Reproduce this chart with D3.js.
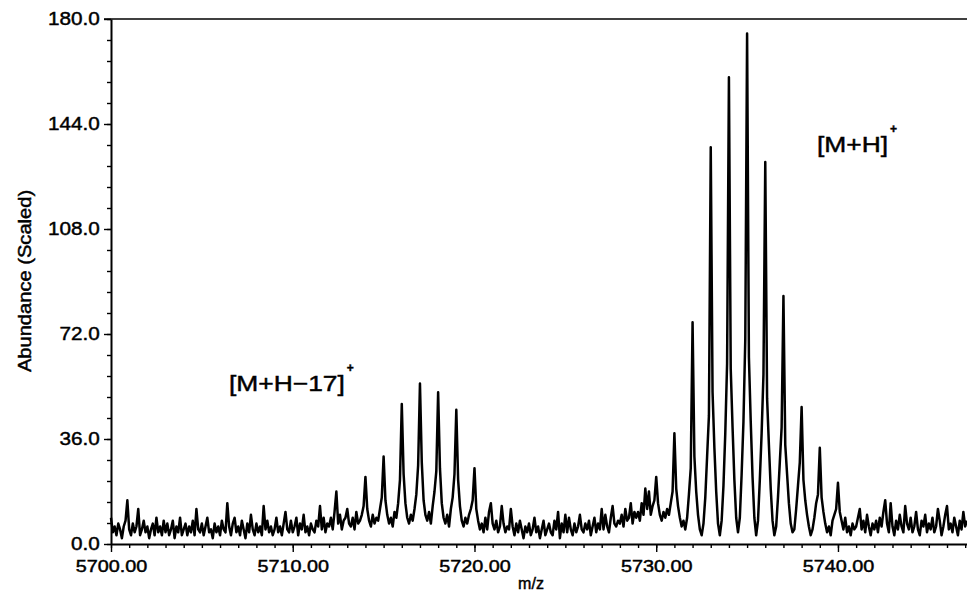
<!DOCTYPE html>
<html>
<head>
<meta charset="utf-8">
<script src="https://cdn.jsdelivr.net/npm/d3@7"></script>
<style>
  body { margin: 0; background: #fff; }
  svg text { font-family: "Liberation Sans", Arial, Helvetica, sans-serif; fill: #000; stroke: #000; stroke-width: 0.45px; }
</style>
</head>
<body>
<div id="chart"></div>
<script>
// sampling grid of the spectrum
var mzStart = 5700, mzStep = 0.1;

// abundance, 10 samples per m/z unit
var noiseLeft = [ // 5700.0 - 5711.9
  9, 4, 6, 3, 7, 5, 2, 6, 8, 15,
  5, 3, 7, 4, 6, 12, 3, 5, 8, 4,
  6, 2, 5, 7, 3, 9, 4, 6, 3, 8,
  4, 7, 3, 5, 8, 2, 6, 4, 9, 3,
  5, 7, 3, 6, 4, 8, 3, 12, 5, 4,
  7, 3, 6, 9, 4, 5, 2, 7, 4, 6,
  3, 8, 5, 4, 14, 6, 3, 7, 9, 4,
  6, 3, 8, 5, 2, 7, 4, 10, 5, 3,
  7, 4, 6, 3, 13, 5, 8, 4, 6, 3,
  5, 9, 4, 6, 3, 7, 11, 5, 4, 8,
  4, 6, 9, 3, 7, 5, 10, 4, 6, 3,
  7, 5, 4, 8, 6, 13, 5, 9, 4, 7
];
var clusterMinus17 = [ // 5712.0 - 5721.9
  6, 9, 5, 11, 18, 7, 10, 5, 8, 9,
  12, 7, 6, 9, 5, 11, 7, 8, 10, 13,
  23, 12, 8, 6, 10, 7, 9, 8, 12, 16,
  30, 15, 10, 7, 9, 6, 11, 9, 14, 22,
  48, 24, 14, 9, 7, 10, 8, 12, 17, 27,
  55, 28, 15, 10, 8, 11, 7, 13, 18, 25,
  52, 26, 14, 9, 7, 10, 6, 12, 16, 24,
  46, 22, 13, 8, 6, 9, 7, 10, 12, 15,
  26, 12, 8, 5, 7, 4, 9, 5, 11, 14,
  7, 5, 8, 4, 6, 13, 7, 4, 6, 5
];
var noiseMiddle = [ // 5722.0 - 5728.9
  12, 6, 3, 7, 4, 8, 5, 2, 6, 4,
  7, 3, 5, 9, 4, 6, 2, 5, 8, 3,
  5, 7, 4, 3, 8, 5, 11, 2, 7, 4,
  10, 4, 9, 5, 3, 7, 4, 6, 10, 5,
  4, 7, 5, 8, 3, 6, 9, 4, 7, 5,
  12, 5, 10, 6, 4, 9, 13, 7, 6, 8,
  7, 10, 6, 12, 8, 9, 14, 7, 11, 9
];
var clusterMH = [ // 5729.0 - 5740.9
  11, 8, 14, 10, 19, 12, 18, 10, 13, 15,
  23, 14, 10, 8, 11, 9, 12, 10, 14, 18,
  38, 19, 13, 9, 6, 8, 5, 9, 17, 26,
  76, 30, 18, 10, 5, 3, 7, 16, 30, 44,
  136, 52, 33, 18, 7, 3, 8, 20, 38, 62,
  160, 60, 40, 22, 9, 4, 9, 24, 42, 70,
  175, 64, 42, 23, 9, 3, 8, 22, 38, 58,
  131, 50, 34, 19, 8, 3, 6, 16, 28, 40,
  85, 34, 24, 14, 7, 4, 5, 12, 20, 28,
  47, 22, 15, 10, 6, 3, 5, 9, 14, 17,
  33, 16, 11, 7, 4, 6, 3, 8, 10, 12,
  21, 11, 8, 5, 9, 4, 6, 3, 7, 5
];
var noiseRight = [ // 5741.0 - 5747.1
  6, 9, 12, 5, 8, 4, 10, 6, 3, 7,
  5, 8, 4, 9, 6, 11, 15, 7, 4, 14,
  6, 3, 8, 5, 10, 6, 4, 13, 7, 5,
  9, 4, 6, 11, 5, 3, 8, 6, 10, 4,
  7, 5, 9, 4, 6, 12, 8, 3, 6, 10,
  13, 5, 7, 4, 9, 6, 3, 8, 5, 11,
  6, 8
];

var xTicks = [5700, 5710, 5720, 5730, 5740];
var yTicks = [0, 36, 72, 108, 144, 180];

var peakLabels = [
  {text: "[M+H\u221217]", x: 229, y: 391},
  {text: "[M+H]", x: 817, y: 152}
];

var width = 967, height = 595;
var plot = {left: 111, right: 967, top: 19, bottom: 544};

var abundance = [].concat(noiseLeft, clusterMinus17, noiseMiddle, clusterMH, noiseRight);
var spectrum = abundance.map(function(v, i) {
  return {mz: mzStart + i * mzStep, value: v};
});

var x = d3.scaleLinear().domain([5700, 5747.1]).range([plot.left, plot.right]);
var y = d3.scaleLinear().domain([0, 180]).range([plot.bottom, plot.top]);

var svg = d3.select("#chart").append("svg")
  .attr("width", width)
  .attr("height", height);

// spectrum trace
var line = d3.line()
  .x(function(d) { return x(d.mz); })
  .y(function(d) { return y(d.value); });

svg.append("path")
  .datum(spectrum)
  .attr("d", line)
  .attr("fill", "none")
  .attr("stroke", "#000")
  .attr("stroke-width", 2.5)
  .attr("stroke-linejoin", "round");

// minor ticks
svg.append("g")
  .attr("transform", "translate(0," + plot.bottom + ")")
  .call(d3.axisBottom(x).tickValues(d3.range(5700, 5748, 1)).tickSize(4).tickFormat(""))
  .call(function(g) { g.select(".domain").remove(); });

svg.append("g")
  .attr("transform", "translate(" + plot.left + ",0)")
  .call(d3.axisLeft(y).tickValues(d3.range(0, 180.1, 7.2)).tickSize(4).tickFormat(""))
  .call(function(g) { g.select(".domain").remove(); });

// major axes
var xAxis = svg.append("g")
  .attr("transform", "translate(0," + plot.bottom + ")")
  .call(d3.axisBottom(x).tickValues(xTicks).tickSize(8).tickSizeOuter(0).tickFormat(d3.format(".2f")));
xAxis.selectAll("text")
  .attr("y", 28).attr("dy", 0)
  .attr("font-size", 16.5)
  .attr("transform", "scale(1.2,1)");

var yAxis = svg.append("g")
  .attr("transform", "translate(" + plot.left + ",0)")
  .call(d3.axisLeft(y).tickValues(yTicks).tickSize(7).tickSizeOuter(0).tickFormat(d3.format(".1f")));
yAxis.selectAll("text")
  .attr("x", -10)
  .attr("font-size", 18.5)
  .attr("transform", "scale(1.12,1)");

svg.selectAll(".domain").attr("stroke-width", 2);
svg.selectAll(".tick line").attr("stroke-width", 1.4);

// top frame line
svg.append("line")
  .attr("x1", plot.left - 7).attr("x2", plot.right)
  .attr("y1", plot.top).attr("y2", plot.top)
  .attr("stroke", "#000").attr("stroke-width", 1.6);

// axis titles
svg.append("text")
  .attr("x", 531).attr("y", 589)
  .attr("text-anchor", "middle")
  .attr("font-size", 16)
  .text("m/z");

svg.append("text")
  .attr("transform", "translate(31,281) rotate(-90) scale(1.15,1)")
  .attr("text-anchor", "middle")
  .attr("font-size", 17.5)
  .text("Abundance (Scaled)");

// peak annotations with a small superscript charge
var ann = svg.selectAll("g.ann").data(peakLabels).enter().append("g").attr("class", "ann");
ann.append("text")
  .attr("transform", function(d) { return "translate(" + d.x + "," + d.y + ") scale(1.2,1)"; })
  .attr("font-size", 22)
  .text(function(d) { return d.text; })
  .each(function(d) { d.w = this.getComputedTextLength() * 1.2; });
ann.append("text")
  .attr("x", function(d) { return d.x + d.w + 2; })
  .attr("y", function(d) { return d.y - 19; })
  .attr("font-size", 12)
  .attr("font-weight", "bold")
  .text("+");
</script>
</body>
</html>
